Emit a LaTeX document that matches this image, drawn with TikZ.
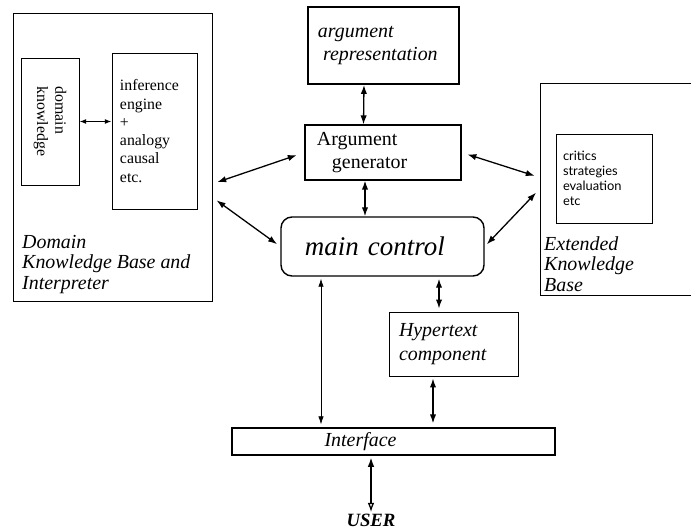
\documentclass[tikz,border=0pt]{standalone}
\usepackage{fontspec}
\setmainfont{Liberation Serif}
\newfontfamily\notefont{Lato}
\usetikzlibrary{positioning,arrows.meta,calc}

\begin{document}
\begin{tikzpicture}[x=0.03cm, y=-0.03cm,
    box/.style={draw, line width=0.8pt, inner sep=0pt},
    itlabel/.style={font=\fontsize{17}{17.5}\selectfont\itshape, align=left, inner sep=0pt},
    body/.style={font=\fontsize{13.5}{15.6}\selectfont, align=left},
    link/.style={{Latex[length=2.7mm,width=1.9mm]}-{Latex[length=2.7mm,width=1.9mm]}, line width=1.1pt},
    thinlink/.style={{Latex[length=2.4mm,width=1.6mm]}-{Latex[length=2.4mm,width=1.6mm]}, line width=0.6pt}]
  \clip (0,0) rectangle (691,529);

  % domain knowledge base (left)
  \node[box, minimum width=5.97cm, minimum height=8.64cm] (dkb) at (112.5,157) {};
  \node[box, minimum width=1.74cm, minimum height=3.81cm] (dk) at (50,121.5) {};
  \node[body, rotate=-90] (dktext) at (dk) {domain\\knowledge};
  \node[box, body, text width=2.07cm, inner xsep=0.24cm, minimum height=4.68cm] (inf) at (154.5,131)
    {inference\\engine\\+\\analogy\\causal\\etc.};
  \node[itlabel, anchor=north west] (dkblabel) at (22,235) {Domain\\Knowledge Base and\\Interpreter};

  % argument boxes and main control
  \node[box, line width=1.6pt, itlabel, text width=3.93cm, inner xsep=0.3cm, minimum height=2.31cm] (arep) at (383.5,45.5)
    {argument\\[0.1cm]\hspace*{0.15cm}representation};
  \node[box, line width=1pt, font=\fontsize{17}{20}\selectfont, align=left, text width=3.96cm, inner xsep=0.36cm,
    minimum height=1.65cm] (agen) at (383,152.5) {Argument\\\hspace*{0.45cm}generator};
  \node[box, line width=1.2pt, rounded corners=0.33cm, font=\fontsize{23}{26}\selectfont\itshape, align=left,
    text width=4.65cm, inner xsep=0.72cm, minimum height=1.77cm] (main) at (382.5,246.5) {main control};

  % extended knowledge base (right, runs off the edge)
  \node[box, minimum width=6.6cm, minimum height=6.36cm] (ekb) at (650,189) {};
  \node[box, font=\notefont\fontsize{11}{12.8}\selectfont, align=left, text width=2.46cm, inner xsep=0.21cm,
    minimum height=2.67cm] (crit) at (604,178.5) {critics\\strategies\\evaluation\\etc};
  \node[itlabel, anchor=north west] (ekblabel) at (544,236) {Extended\\Knowledge\\Base};

  % hypertext, interface, user
  \node[box, itlabel, font=\fontsize{17}{20}\selectfont\itshape, text width=3.27cm, inner xsep=0.3cm,
    minimum height=1.92cm] (hyp) at (453.5,344) {Hypertext\\component};
  \node[box, line width=1.1pt, minimum width=9.69cm, minimum height=0.81cm] (intf) at (393.5,441.5) {};
  \node[itlabel] (intftext) at ($(intf)+(-33,0)$) {Interface};
  \node[font=\fontsize{16}{16}\selectfont\bfseries\itshape, inner sep=1pt, anchor=base] (user) at (371,526) {USER};

  % connectors
  \draw[link, {Latex[length=2mm,width=1.5mm]}-{Latex[length=2mm,width=1.5mm]}] (dk.east |- dk) -- (dk -| inf.west);
  \draw[link, shorten <=0.15cm, shorten >=0.24cm] (dkb.-15.7) -- (agen.west);
  \draw[link, shorten <=0.15cm, shorten >=0.12cm] (dkb.-22) -- (main.west);
  \draw[link] ($(arep.south)+(-19.5,0)$) -- ($(agen.north)+(-19.5,0)$);
  \draw[link] ($(agen.south)+(-18,0)$) -- ($(main.north)+(-17.5,0)$);
  \draw[link, shorten <=0.18cm, shorten >=0.15cm] (agen.east) -- (ekb.174.3);
  \draw[link, shorten <=0.09cm, shorten >=0.15cm] (main.east) -- (ekb.west);
  \draw[link, shorten <=0.06cm, shorten >=0.09cm] ($(main.south)+(56.5,0)$) -- ($(hyp.north)+(-14.5,0)$);
  \draw[thinlink, shorten <=0.06cm, shorten >=0.09cm] ($(main.south)+(-61.5,0)$) -- ($(intf.north)+(-72.5,0)$);
  \draw[link, shorten <=0.06cm, shorten >=0.12cm] ($(hyp.south)+(-20.5,0)$) -- ($(intf.north)+(39.5,0)$);
  \draw[{Latex[length=2.8mm,width=2mm]}-{Latex[open,length=2.8mm,width=2mm]}, line width=1.1pt, shorten <=0.06cm]
    ($(intf.south)+(-22.5,0)$) -- (user.north);
\end{tikzpicture}
\end{document}
